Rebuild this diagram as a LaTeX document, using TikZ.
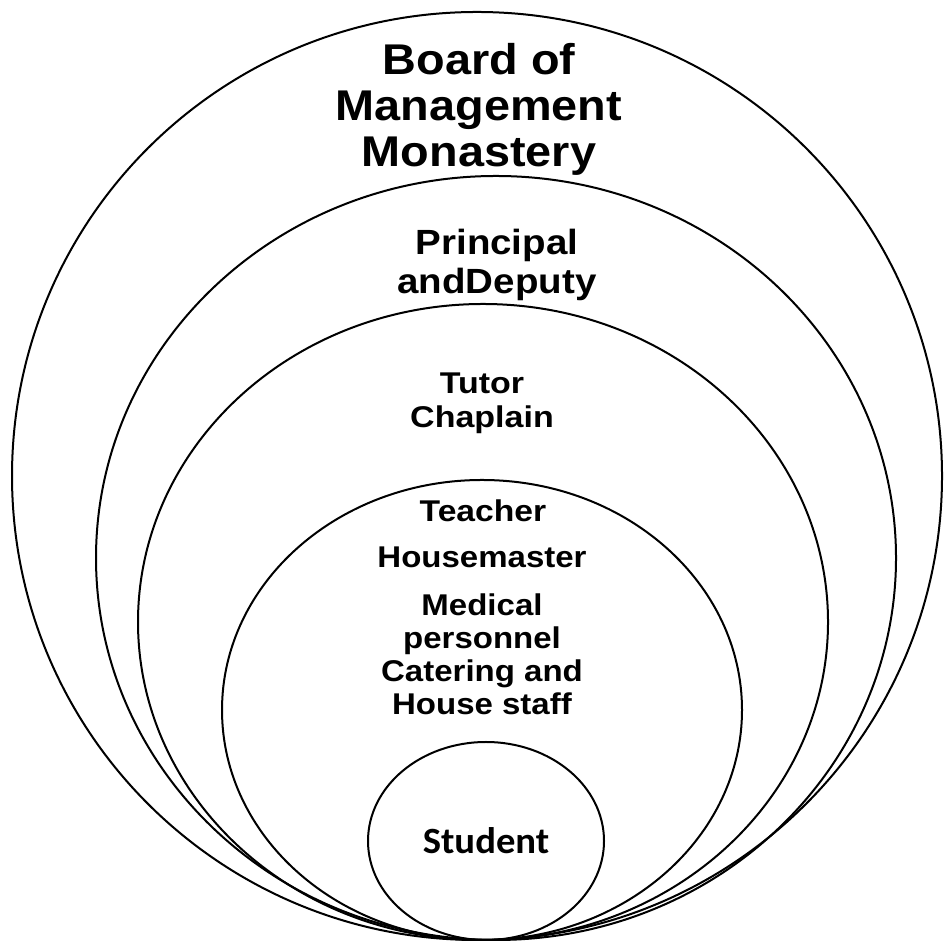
\documentclass[tikz,border=0pt]{standalone}
\usepackage{fontspec}
\setmainfont{Liberation Sans}
\newfontfamily\studentfont{Carlito}
\usetikzlibrary{calc}

\begin{document}
\begin{tikzpicture}[x=0.5pt,y=0.5pt,
    ring/.style={line width=1pt,black},
    label/.style={align=center,inner sep=0pt,font=\bfseries,xscale=1.1}]
    \useasboundingbox (0,0) rectangle (944,945);
    \coordinate (c0) at (477,469);
    \coordinate (c1) at (496,387);
    \coordinate (c2) at (483,323);
    \coordinate (c3) at (482,235);
    \coordinate (c4) at (486,104);
    \draw[ring] (c0) ellipse [x radius=465, y radius=464];
    \draw[ring] (c1) ellipse [x radius=400, y radius=382];
    \draw[ring] (c2) ellipse [x radius=345, y radius=318];
    \draw[ring] (c3) ellipse [x radius=260, y radius=230];
    \draw[ring] (c4) ellipse [x radius=118, y radius=99];
    \node[label,xscale=0.99,font=\bfseries\fontsize{21.5}{23}\selectfont] (board) at (479,836)
      {Board of\\Management\\Monastery};
    \node[label,font=\bfseries\fontsize{17.5}{19.5}\selectfont] (principal) at (497,680)
      {Principal\\andDeputy};
    \node[label,xscale=1.03,font=\bfseries\fontsize{15}{17}\selectfont] (tutor) at (482,542)
      {Tutor\\Chaplain};
    \node[label,xscale=1.02,font=\bfseries\fontsize{15}{16.5}\selectfont] (teacher) at (483,434)
      {Teacher};
    \node[label,font=\bfseries\fontsize{15}{16.5}\selectfont] (housemaster) at (482,388)
      {Housemaster};
    \node[label,font=\bfseries\fontsize{15}{16.5}\selectfont] (staff) at (482,291)
      {Medical\\personnel\\Catering and\\House staff};
    \node[label,xscale=0.95,font=\studentfont\bfseries\fontsize{18.5}{20}\selectfont] (student) at (486,104)
      {Student};
\end{tikzpicture}
\end{document}
